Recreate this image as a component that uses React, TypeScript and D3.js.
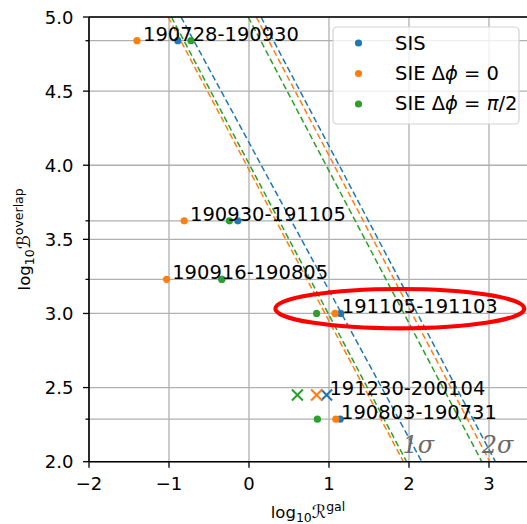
import React from "react";
import * as d3 from "d3";

// ---- data ----
const events = ["190728-190930", "190930-191105", "190916-190805", "191105-191103", "191230-200104", "190803-190731"];
const logB = [4.84, 3.625, 3.23, 3.0, 2.45, 2.287];
const sisR = [-0.89, -0.14, -0.34, 1.145, 0.97, 1.14];
const sie0R = [-1.4, -0.81, -1.03, 1.075, 0.845, 1.085];
const sie90R = [-0.725, -0.245, -0.34, 0.845, 0.605, 0.855];
const crossMarker = [false, false, false, false, true, false];
const labelR = [-1.325, -0.7375, -0.96, 1.16, 1.005, 1.15];

const models = ["SIS", "SIE0", "SIE90"];
const modelColors = ["#1f77b4", "#ff7f0e", "#2ca02c"];
// threshold lines: x at y=5 (top) and x at y=2 (bottom), for 1σ and 2σ
const thr1Top = [-0.85, -1.01, -0.97];
const thr1Bottom = [2.16, 1.93, 1.97];
const thr2Top = [0.15, 0.09, -0.01];
const thr2Bottom = [3.08, 3.01, 2.91];
const sigmaLabels = ["1σ", "2σ"];
const sigmaLabelX = [1.92, 2.91];
const sigmaLabelY = 2.06;

const xTicks = [-2, -1, 0, 1, 2, 3];
const yTicks = [2.0, 2.5, 3.0, 3.5, 4.0, 4.5, 5.0];
const yMinorTicks = [4.84, 3.625, 3.23, 2.287];

const xDomain = [-2, 3.5];
const yDomain = [2, 5];

// highlight ellipse around 191105-191103 (data coords)
const ellipseX = [0.33, 3.44];
const ellipseY = [2.9, 3.165];

const FONT = "DejaVu Sans, sans-serif";

export default function App() {
  const W = 527, H = 524;
  const left = 89, right = 529, top = 17, bottom = 461.7;
  const x = d3.scaleLinear().domain(xDomain).range([left, right]);
  const y = d3.scaleLinear().domain(yDomain).range([bottom, top]);

  const thrLines: { x1: number; x2: number; color: string }[] = [];
  models.forEach((m, i) => {
    thrLines.push({ x1: thr1Top[i], x2: thr1Bottom[i], color: modelColors[i] });
    thrLines.push({ x1: thr2Top[i], x2: thr2Bottom[i], color: modelColors[i] });
  });
  const lineGen = d3.line<[number, number]>().x((d) => x(d[0])).y((d) => y(d[1]));

  const seriesR = [sisR, sie0R, sie90R];

  const cx = x((ellipseX[0] + ellipseX[1]) / 2);
  const cy = y((ellipseY[0] + ellipseY[1]) / 2);
  const rx = (x(ellipseX[1]) - x(ellipseX[0])) / 2;
  const ry = (y(ellipseY[0]) - y(ellipseY[1])) / 2;

  const legendItems = [
    { color: modelColors[0], label: <tspan>SIS</tspan> },
    { color: modelColors[1], label: <tspan>SIE Δ<tspan fontStyle="italic">ϕ</tspan> = 0</tspan> },
    { color: modelColors[2], label: <tspan>SIE Δ<tspan fontStyle="italic">ϕ</tspan> = <tspan fontStyle="italic">π</tspan>/2</tspan> },
  ];

  return (
    <svg width={W} height={H} style={{ position: "absolute", left: 0, top: 0, background: "#fff" }} fontFamily={FONT}>
      <defs>
        <clipPath id="plotclip">
          <rect x={left} y={top} width={right - left} height={bottom - top} />
        </clipPath>
      </defs>
      <rect x={0} y={0} width={W} height={H} fill="#fff" />
      {/* grid */}
      <g stroke="#b0b0b0" strokeWidth={1.3}>
        {xTicks.map((t) => (
          <line key={"gx" + t} x1={x(t)} x2={x(t)} y1={top} y2={bottom} />
        ))}
        {yTicks.concat(yMinorTicks).map((t) => (
          <line key={"gy" + t} x1={left} x2={right} y1={y(t)} y2={y(t)} />
        ))}
      </g>
      {/* threshold lines */}
      <g clipPath="url(#plotclip)" fill="none" strokeWidth={1.5} strokeDasharray="6.2,3.2">
        {thrLines.map((l, i) => (
          <path key={"thr" + i} d={lineGen([[l.x1, 5], [l.x2, 2]]) || ""} stroke={l.color} />
        ))}
      </g>
      {/* points */}
      <g>
        {events.map((ev, i) =>
          seriesR.map((arr, j) =>
            crossMarker[i] ? (
              <g key={ev + j} stroke={modelColors[j]} strokeWidth={2}>
                <line x1={x(arr[i]) - 5.5} x2={x(arr[i]) + 5.5} y1={y(logB[i]) - 5.5} y2={y(logB[i]) + 5.5} />
                <line x1={x(arr[i]) - 5.5} x2={x(arr[i]) + 5.5} y1={y(logB[i]) + 5.5} y2={y(logB[i]) - 5.5} />
              </g>
            ) : (
              <circle key={ev + j} cx={x(arr[i])} cy={y(logB[i])} r={3.6} fill={modelColors[j]} />
            )
          )
        )}
      </g>
      {/* annotations */}
      <g fontSize={19.5} fill="#000">
        {events.map((ev, i) => (
          <text key={"lab" + ev} x={x(labelR[i])} y={y(logB[i])}>
            {ev}
          </text>
        ))}
      </g>
      {/* sigma labels */}
      <g fontSize={24} fill="#6a6a6a" fontFamily="DejaVu Serif, serif" fontStyle="italic">
        {sigmaLabels.map((s, i) => (
          <text key={s} x={x(sigmaLabelX[i])} y={y(sigmaLabelY)}>
            {s}
          </text>
        ))}
      </g>
      {/* spines */}
      <g stroke="#000" strokeWidth={1.6}>
        <line x1={left} x2={left} y1={top} y2={bottom} />
        <line x1={left} x2={right} y1={bottom} y2={bottom} />
        <line x1={left} x2={right} y1={top} y2={top} />
      </g>
      {/* ticks */}
      <g stroke="#000" strokeWidth={1.3}>
        {xTicks.map((t) => (
          <line key={"tx" + t} x1={x(t)} x2={x(t)} y1={bottom} y2={bottom + 6} />
        ))}
        {yTicks.map((t) => (
          <line key={"ty" + t} x1={left - 6} x2={left} y1={y(t)} y2={y(t)} />
        ))}
        {yMinorTicks.map((t) => (
          <line key={"tm" + t} x1={left - 3.5} x2={left} y1={y(t)} y2={y(t)} />
        ))}
      </g>
      <g fontSize={18} fill="#000">
        {xTicks.map((t) => (
          <text key={"lx" + t} x={x(t)} y={bottom + 28.5} textAnchor="middle">
            {t < 0 ? "\u2212" + Math.abs(t) : String(t)}
          </text>
        ))}
        {yTicks.map((t) => (
          <text key={"ly" + t} x={left - 15.5} y={y(t) + 6.6} textAnchor="end">
            {t.toFixed(1)}
          </text>
        ))}
      </g>
      {/* axis labels */}
      <text x={(left + right) / 2 - 1} y={518} textAnchor="middle" fontSize={16.5} fill="#000">
        log
        <tspan fontSize={12.5} dy={4}>10</tspan>
        <tspan fontSize={18} dy={-4} fontStyle="italic">ℛ</tspan>
        <tspan fontSize={12.5} dy={-7}>gal</tspan>
      </text>
      <text transform={`translate(30,${(top + bottom) / 2}) rotate(-90)`} textAnchor="middle" fontSize={16.5} fill="#000">
        log
        <tspan fontSize={12.5} dy={4}>10</tspan>
        <tspan fontSize={18} dy={-4} fontStyle="italic">ℬ</tspan>
        <tspan fontSize={12.5} dy={-7}>overlap</tspan>
      </text>
      {/* legend */}
      <g>
        <rect x={333} y={27} width={186} height={97} rx={4} fill="#fff" fillOpacity={0.8} stroke="#d3d3d3" strokeWidth={1.2} />
        {legendItems.map((it, i) => (
          <g key={"leg" + i}>
            <circle cx={358.5} cy={43 + i * 30.5} r={3.6} fill={it.color} />
            <text x={395} y={50 + i * 30.2} fontSize={19.5} fill="#000">
              {it.label}
            </text>
          </g>
        ))}
      </g>
      {/* highlight ellipse */}
      <ellipse cx={cx} cy={cy} rx={rx} ry={ry} fill="none" stroke="#ff0000" strokeWidth={4.2} />
    </svg>
  );
}
